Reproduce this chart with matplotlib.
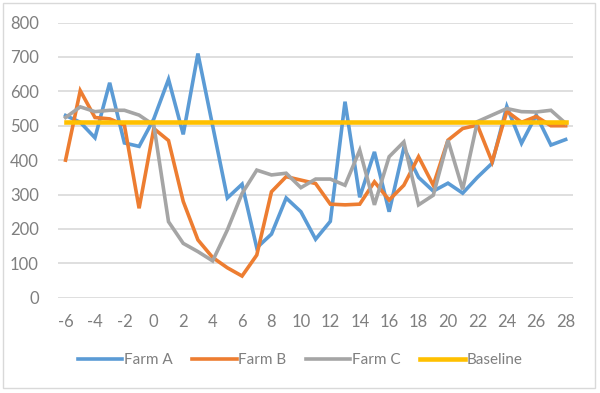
import matplotlib.pyplot as plt

plt.rcParams["axes.unicode_minus"] = False
plt.rcParams["font.family"] = ["Lato", "DejaVu Sans"]

days = list(range(-6, 29))

farm_a = [530, 510, 465, 625, 450, 440, 520, 635, 475, 710, 500, 290, 330, 145, 185, 290,
          250, 170, 222, 570, 292, 424, 250, 436, 350, 310, 333, 304, 350, 391, 556, 449,
          531, 444, 460]
farm_b = [400, 602, 524, 520, 502, 260, 492, 457, 280, 168, 117, 87, 63, 124, 308, 352,
          342, 332, 272, 270, 272, 337, 284, 327, 410, 327, 458, 492, 502, 395, 542, 510,
          527, 500, 500]
farm_c = [524, 555, 541, 545, 545, 531, 502, 221, 158, 134, 107, 197, 303, 371, 357, 362,
          320, 345, 345, 327, 429, 270, 410, 453, 270, 298, 458, 315, 512, 531, 550, 541,
          540, 545, 507]
baseline = [510] * len(days)

series = [("Farm A", farm_a, "#5B9BD5"),
          ("Farm B", farm_b, "#ED7D31"),
          ("Farm C", farm_c, "#A5A5A5"),
          ("Baseline", baseline, "#FFC000")]

fig = plt.figure(figsize=(6, 3.93), dpi=100)
ax = fig.add_axes([0.097, 0.2425, 0.858, 0.7])

for name, vals, col in series:
    lw = 3.3 if name == "Baseline" else 2.6
    ax.plot(days, vals, color=col, linewidth=lw, label=name, solid_joinstyle="miter")

ax.set_xlim(-6.5, 28.5)
ax.set_ylim(0, 800)
ax.set_xticks(range(-6, 29, 2))
ax.set_yticks(range(0, 801, 100))
ax.grid(axis="y", color="#D9D9D9", linewidth=1.2)
ax.set_axisbelow(True)
for s in ax.spines.values():
    s.set_visible(False)
ax.tick_params(length=0, labelsize=12, labelcolor="#7F7F7F")
ax.tick_params(axis="y", pad=14)
ax.tick_params(axis="x", pad=12)

fig.legend(loc="center", bbox_to_anchor=(0.5, 0.083), ncol=4, frameon=False,
           fontsize=11, handlelength=2.9, columnspacing=1.3, handletextpad=0.1,
           labelcolor="#7F7F7F")

# light outer border
fig.patches.append(plt.Rectangle((0.005, 0.012), 0.987, 0.98, transform=fig.transFigure,
                                 fill=False, edgecolor="#D9D9D9", linewidth=1))

fig.savefig("out.png", dpi=100)
